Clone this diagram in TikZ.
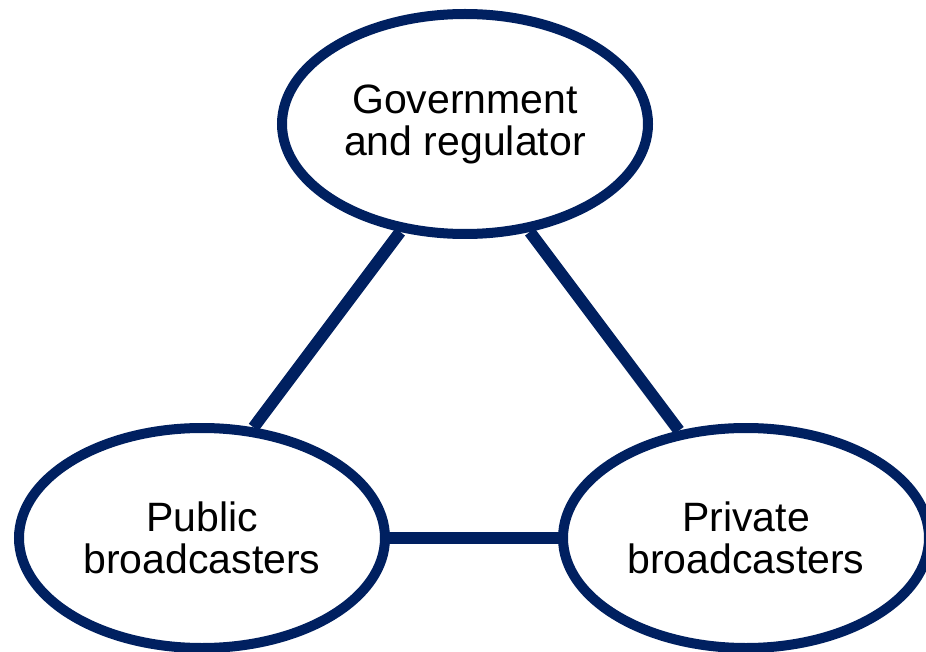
\documentclass[tikz,border=0pt]{standalone}
\usepackage{fontspec}
\setmainfont{Liberation Sans}
\usetikzlibrary{shapes.geometric,backgrounds}
\definecolor{navy}{RGB}{0,32,96}
\begin{document}
\begin{tikzpicture}[x=1pt,y=-1pt,
  actor/.style={ellipse, draw=navy, line width=10pt, fill=white, inner sep=0pt,
    minimum width=366pt, minimum height=220pt, align=center,
    font=\fontsize{41}{42}\selectfont},
  link/.style={draw=navy, line width=12pt}]
\useasboundingbox (0,0) rectangle (926,652);
\node[actor] (gov) at (465,124) {Government\\and regulator};
\node[actor] (pub) at (202,538) {Public\\broadcasters};
\node[actor] (priv) at (746,538) {Private\\broadcasters};
\begin{scope}[on background layer]
\path[link] (gov.239) -- (pub.65);
\path[link] (gov.301) -- (priv.122.6);
\path[link] (pub.east) -- (priv.west);
\end{scope}
\end{tikzpicture}
\end{document}
